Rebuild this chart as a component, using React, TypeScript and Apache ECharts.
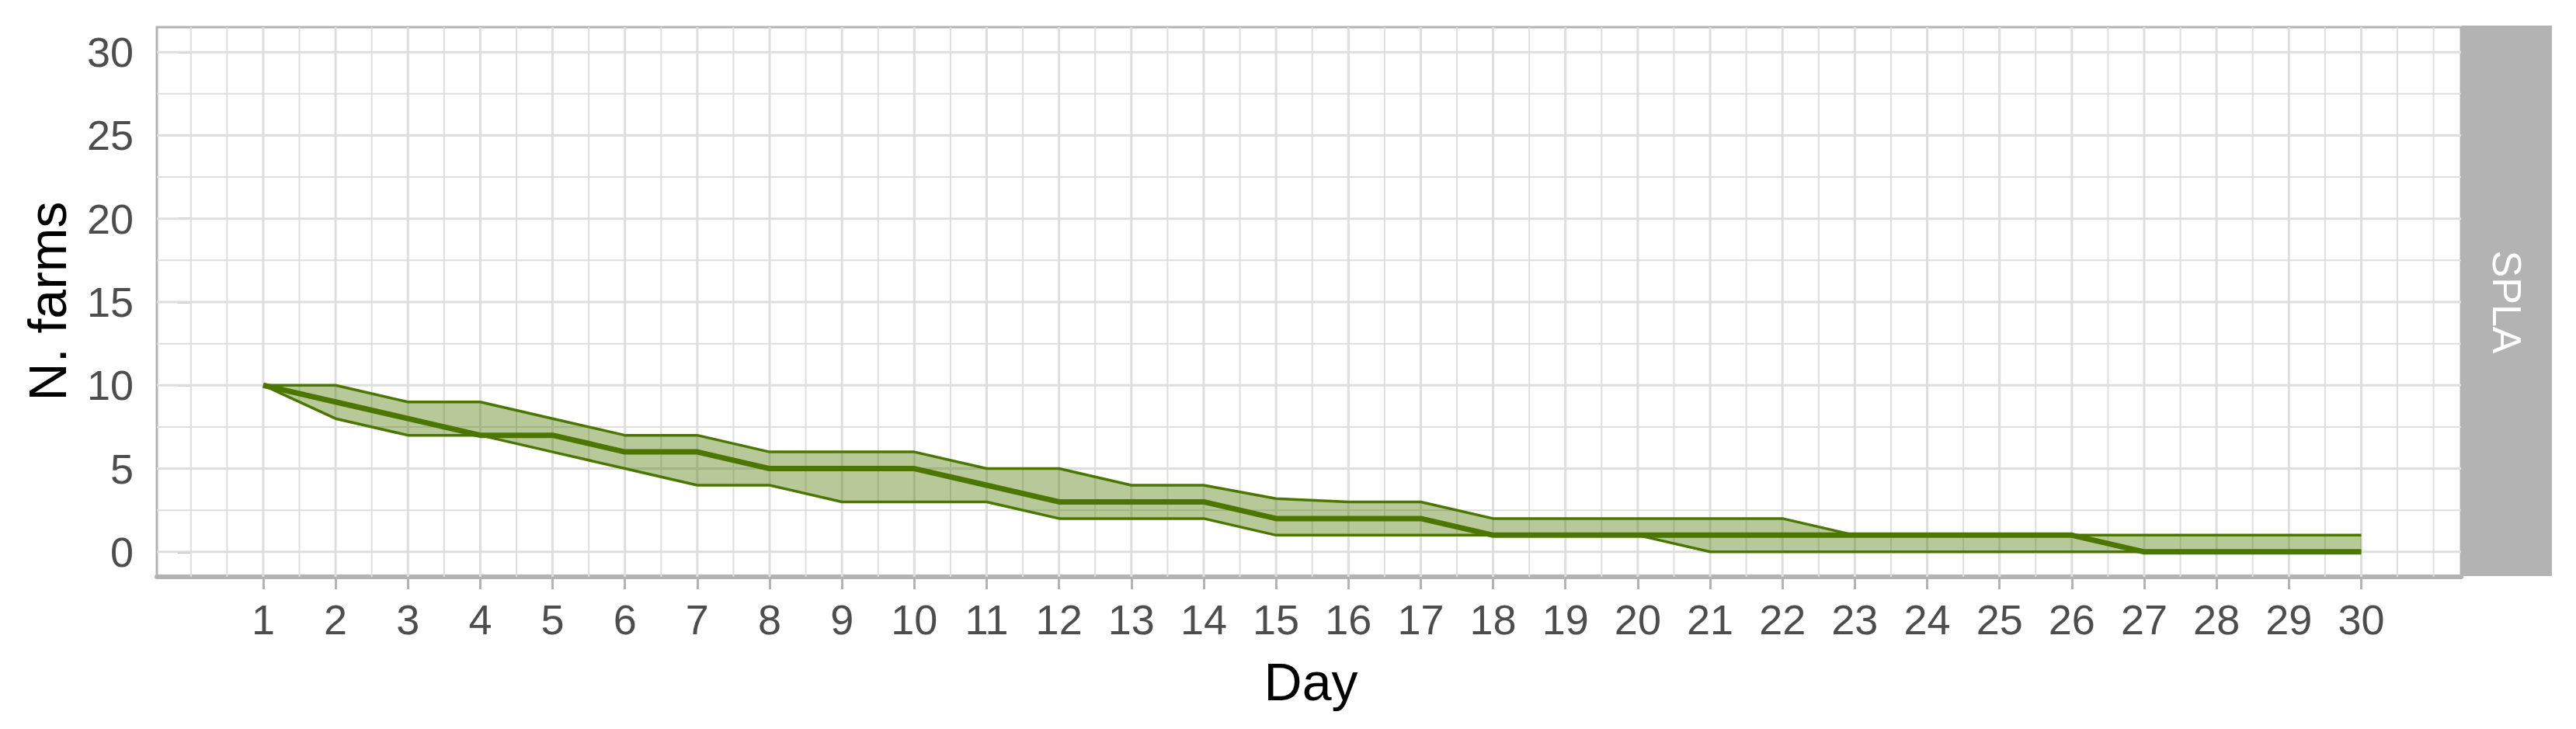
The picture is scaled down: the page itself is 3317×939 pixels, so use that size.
import React, { useEffect, useRef } from "react";
import * as echarts from "echarts";

const days = [1, 2, 3, 4, 5, 6, 7, 8, 9, 10, 11, 12, 13, 14, 15, 16, 17, 18, 19, 20, 21, 22, 23, 24, 25, 26, 27, 28, 29, 30];
const medianFarms = [10, 9, 8, 7, 7, 6, 6, 5, 5, 5, 4, 3, 3, 3, 2, 2, 2, 1, 1, 1, 1, 1, 1, 1, 1, 1, 0, 0, 0, 0];
const upperFarms = [10, 10, 9, 9, 8, 7, 7, 6, 6, 6, 5, 5, 4, 4, 3.2, 3, 3, 2, 2, 2, 2, 2, 1, 1, 1, 1, 1, 1, 1, 1];
const lowerFarms = [10, 8, 7, 7, 6, 5, 4, 4, 3, 3, 3, 2, 2, 2, 1, 1, 1, 1, 1, 1, 0, 0, 0, 0, 0, 0, 0, 0, 0, 0];
const yTicks = [0, 5, 10, 15, 20, 25, 30];
const yMinorGrid = [2.5, 7.5, 12.5, 17.5, 22.5, 27.5];
const xMinorGrid = [0, ...days.map((d) => d - 0.5), 30.5, 31];
const panelLabel = "SPLA";
const xTitle = "Day";
const yTitle = "N. farms";

const FONT = '"Liberation Sans", Arial, sans-serif';
const GREEN = "#4b7600";
const GRID_COLOR = "#dedede";
const BORDER = "#b3b3b3";

export default function App() {
  const ref = useRef<HTMLDivElement>(null);

  useEffect(() => {
    if (!ref.current) return;
    const chart = echarts.init(ref.current, undefined, { renderer: "svg" });

    const option: any = {
      animation: false,
      backgroundColor: "#ffffff",
      textStyle: { fontFamily: FONT },
      grid: {
        left: 202,
        right: 148,
        top: 35,
        bottom: 196,
        show: true,
        borderColor: BORDER,
        borderWidth: 3,
        containLabel: false,
        outerBoundsMode: "none",
      },
      xAxis: {
        type: "value",
        min: -0.47,
        max: 31.38,
        splitLine: { show: false },
        axisLine: { show: true, onZero: false, lineStyle: { color: BORDER, width: 6 } },
        axisTick: { show: true, customValues: days, length: 16, lineStyle: { color: BORDER, width: 3 } },
        axisLabel: { customValues: days, margin: 28, fontSize: 54, color: "#4d4d4d", fontFamily: FONT },
      },
      yAxis: {
        type: "value",
        min: -1.5,
        max: 31.5,
        splitLine: { show: false },
        axisLine: { show: false },
        axisTick: { show: true, customValues: yTicks, length: 17, lineStyle: { color: BORDER, width: 3 } },
        axisLabel: { customValues: yTicks, margin: 30, fontSize: 54, color: "#4d4d4d", fontFamily: FONT },
      },
      graphic: [
        {
          type: "rect",
          shape: { x: 3170, y: 33, width: 116, height: 709 },
          style: { fill: BORDER },
          z: 10,
        },
        {
          type: "text",
          x: 3228,
          y: 389,
          rotation: -Math.PI / 2,
          z: 11,
          style: {
            text: panelLabel,
            fill: "#ffffff",
            fontSize: 52,
            fontFamily: FONT,
            align: "center",
            verticalAlign: "middle",
          },
        },
        {
          type: "text",
          x: 1688,
          y: 878,
          z: 11,
          style: {
            text: xTitle,
            fill: "#000000",
            fontSize: 68,
            fontFamily: FONT,
            align: "center",
            verticalAlign: "middle",
          },
        },
        {
          type: "text",
          x: 61,
          y: 388,
          rotation: Math.PI / 2,
          z: 11,
          style: {
            text: yTitle,
            fill: "#000000",
            fontSize: 68,
            fontFamily: FONT,
            align: "center",
            verticalAlign: "middle",
          },
        },
      ],
      series: [
        {
          type: "custom",
          silent: true,
          z: 1,
          clip: true,
          data: days.map((d) => [d, 1]).concat(xMinorGrid.map((d) => [d, 0])),
          encode: { x: 0, y: 1 },
          renderItem: (params: any, api: any) => {
            const x = api.coord([api.value(0), 0])[0];
            const cs = params.coordSys;
            return {
              type: "line",
              shape: { x1: x, y1: cs.y, x2: x, y2: cs.y + cs.height },
              style: { stroke: GRID_COLOR, lineWidth: api.value(1) ? 3 : 2 },
            };
          },
        },
        {
          type: "custom",
          silent: true,
          z: 1,
          clip: true,
          data: yTicks.map((v) => [1, v, 1]).concat(yMinorGrid.map((v) => [1, v, 0])),
          encode: { x: 0, y: 1 },
          renderItem: (params: any, api: any) => {
            const y = api.coord([0, api.value(1)])[1];
            const cs = params.coordSys;
            return {
              type: "line",
              shape: { x1: cs.x, y1: y, x2: cs.x + cs.width, y2: y },
              style: { stroke: GRID_COLOR, lineWidth: api.value(2) ? 3 : 2 },
            };
          },
        },
        {
          type: "custom",
          silent: true,
          z: 2,
          clip: true,
          data: days.map((d, i) => [d, lowerFarms[i], upperFarms[i]]),
          encode: { x: 0, y: [1, 2] },
          renderItem: (params: any, api: any) => {
            if (params.dataIndex !== 0) return null;
            const pts: number[][] = [];
            for (let i = 0; i < days.length; i++) pts.push(api.coord([days[i], upperFarms[i]]));
            for (let i = days.length - 1; i >= 0; i--) pts.push(api.coord([days[i], lowerFarms[i]]));
            return {
              type: "polygon",
              shape: { points: pts },
              style: { fill: GREEN, opacity: 0.4 },
            };
          },
        },
        {
          type: "line",
          silent: true,
          z: 3,
          showSymbol: false,
          data: days.map((d, i) => [d, upperFarms[i]]),
          lineStyle: { color: GREEN, width: 3.5 },
        },
        {
          type: "line",
          silent: true,
          z: 3,
          showSymbol: false,
          data: days.map((d, i) => [d, lowerFarms[i]]),
          lineStyle: { color: GREEN, width: 3.5 },
        },
        {
          type: "line",
          silent: true,
          z: 4,
          showSymbol: false,
          data: days.map((d, i) => [d, medianFarms[i]]),
          lineStyle: { color: GREEN, width: 7 },
        },
      ],
    };

    chart.setOption(option);
    return () => chart.dispose();
  }, []);

  return (
    <div
      ref={ref}
      style={{ position: "absolute", left: 0, top: 0, width: 3317, height: 939 }}
    />
  );
}
